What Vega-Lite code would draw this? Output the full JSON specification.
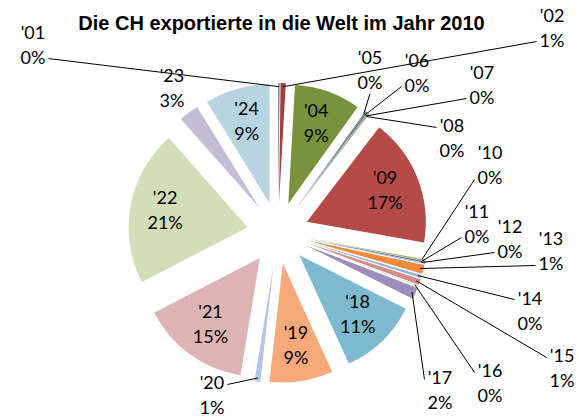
{
  "$schema": "https://vega.github.io/schema/vega-lite/v6.json",
  "width": 579,
  "height": 420,
  "padding": 0,
  "autosize": "none",
  "background": "white",
  "config": {"view": {"stroke": null}},
  "title": {
    "text": "Die CH exportierte in die Welt im Jahr 2010",
    "font": "Liberation Sans",
    "fontSize": 20,
    "fontWeight": "bold",
    "color": "#000000",
    "anchor": "middle",
    "offset": -34,
    "dx": -8
  },
  "data": {
    "values": [
      {"name": "'01", "value": 0.2},
      {"name": "'02", "value": 0.7},
      {"name": "'04", "value": 9.0},
      {"name": "'05", "value": 0.1},
      {"name": "'06", "value": 0.2},
      {"name": "'07", "value": 0.1},
      {"name": "'08", "value": 0.1},
      {"name": "'09", "value": 17.4},
      {"name": "'10", "value": 0.2},
      {"name": "'11", "value": 0.2},
      {"name": "'12", "value": 0.1},
      {"name": "'13", "value": 1.2},
      {"name": "'14", "value": 0.4},
      {"name": "'15", "value": 0.8},
      {"name": "'16", "value": 0.1},
      {"name": "'17", "value": 1.6},
      {"name": "'18", "value": 10.8},
      {"name": "'19", "value": 8.6},
      {"name": "'20", "value": 0.8},
      {"name": "'21", "value": 14.8},
      {"name": "'22", "value": 21.1},
      {"name": "'23", "value": 2.7},
      {"name": "'24", "value": 8.8}
    ]
  },
  "transform": [
    {"joinaggregate": [{"op": "sum", "field": "value", "as": "total"}]},
    {"window": [{"op": "sum", "field": "value", "as": "cum"}], "sort": [{"field": "name", "order": "ascending"}], "frame": [null, 0]},
    {"calculate": "datum.cum / datum.total * 2 * PI", "as": "a1"},
    {"calculate": "datum.a1 - datum.value / datum.total * 2 * PI", "as": "a0"},
    {"calculate": "(datum.a0 + datum.a1) / 2", "as": "m"},
    {"calculate": "0.26 * sin(datum.m)", "as": "cx"},
    {"calculate": "0.26 * cos(datum.m)", "as": "cy"},
    {"calculate": "toNumber(slice(datum.name, 1))", "as": "idx"},
    {"calculate": "datum.value >= 5 ? 0.965 * sin(datum.m) : [0,-2.059,2.303,0,0,0.773,1.168,1.714,1.462,0,1.782,1.672,1.950,2.294,2.118,2.387,1.782,1.361,0,0,-0.555,0,0,-0.891,0][datum.idx]", "as": "lx"},
    {"calculate": "datum.value >= 5 ? 0.965 * cos(datum.m) : [0,1.571,1.714,0,0,1.361,1.336,1.235,0.782,0,0.555,0.067,-0.059,-0.168,-0.664,-1.151,-1.277,-1.336,0,0,-1.378,0,0,1.210,0][datum.idx]", "as": "ly"},
    {"calculate": "1.23 * sin(datum.m)", "as": "px"},
    {"calculate": "1.23 * cos(datum.m)", "as": "py"},
    {"calculate": "abs(datum.lx - datum.px) < 0.08 ? datum.lx : (datum.lx > datum.px ? datum.lx - 0.13 : datum.lx + 0.13)", "as": "ax"},
    {"calculate": "abs(datum.lx - datum.px) < 0.08 ? datum.ly - 0.19 : (datum.ly > datum.py ? datum.ly - 0.105 : datum.ly + 0.105)", "as": "ay"},
    {"calculate": "datum.name + '\\n' + format(datum.value / datum.total * 100, '.0f') + '%'", "as": "label"}
  ],
  "layer": [
    {
      "mark": {"type": "arc", "radius": 119},
      "encoding": {
        "x": {"field": "cx", "type": "quantitative", "scale": {"domain": [-2.3361, 2.5294], "nice": false, "zero": false}, "axis": null},
        "y": {"field": "cy", "type": "quantitative", "scale": {"domain": [-1.5714, 1.958], "nice": false, "zero": false}, "axis": null},
        "theta": {"field": "a0", "type": "quantitative", "scale": null, "stack": null},
        "theta2": {"field": "a1"},
        "color": {
          "field": "name",
          "type": "nominal",
          "legend": null,
          "scale": {
            "domain": ["'01","'02","'04","'05","'06","'07","'08","'09","'10","'11","'12","'13","'14","'15","'16","'17","'18","'19","'20","'21","'22","'23","'24"],
            "range": ["#5B7FB5","#A0403D","#77933C","#604A7B","#31859C","#E46C0A","#4F81BD","#B54B48","#9BBB59","#8064A2","#4BACC6","#F0883E","#95B3D7","#D38B89","#C3D69B","#9E8CBD","#7DBAD0","#F8A979","#B6C5E2","#DDB4B3","#D2DEB8","#C5BCD6","#B6D5E0"]
          }
        }
      }
    },
    {
      "transform": [{"filter": "datum.value < 2.5"}],
      "mark": {"type": "rule", "color": "#000000", "strokeWidth": 1},
      "encoding": {
        "x": {"field": "px", "type": "quantitative", "scale": {"domain": [-2.3361, 2.5294], "nice": false, "zero": false}, "axis": null},
        "y": {"field": "py", "type": "quantitative", "scale": {"domain": [-1.5714, 1.958], "nice": false, "zero": false}, "axis": null},
        "x2": {"field": "ax"},
        "y2": {"field": "ay"}
      }
    },
    {
      "mark": {"type": "text", "font": "Lato", "fontSize": 18, "lineBreak": "\n", "lineHeight": 25, "baseline": "middle", "align": "center", "dy": -12.5, "color": "#000000"},
      "encoding": {
        "x": {"field": "lx", "type": "quantitative", "scale": {"domain": [-2.3361, 2.5294], "nice": false, "zero": false}, "axis": null},
        "y": {"field": "ly", "type": "quantitative", "scale": {"domain": [-1.5714, 1.958], "nice": false, "zero": false}, "axis": null},
        "text": {"field": "label"}
      }
    }
  ]
}
